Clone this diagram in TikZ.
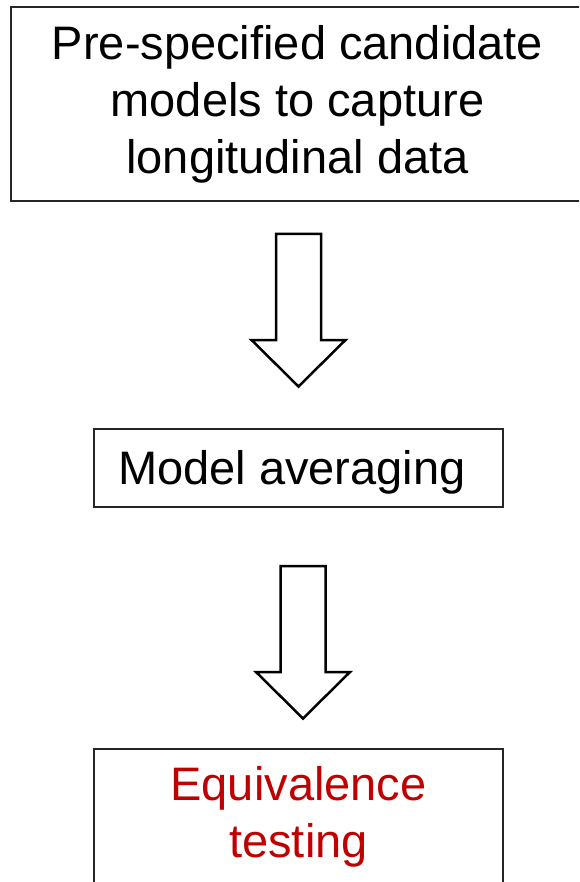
\documentclass[tikz,border=0pt]{standalone}
\usepackage{fontspec}
\setmainfont{Liberation Sans}
\usepackage{xcolor}
\usetikzlibrary{positioning}
\definecolor{eqred}{HTML}{C00000}
\newcommand\pptstrut{\rule[-0.212em]{0pt}{1.117em}}

\begin{document}
\begin{tikzpicture}[x=1pt, y=-1pt,
  box/.style={draw=black!85, line width=2pt, align=center, inner sep=0pt,
    font=\fontsize{47}{57}\selectfont,
    execute at begin node=\pptstrut, execute at end node=\pptstrut},
  blockarrow/.style={draw=black, line width=2.5pt, fill=white, line join=miter},
  downarrow/.pic={
    \draw[blockarrow] (-22.5,0) -- (-22.5,106) -- (-47,106) -- (0,152.5)
      -- (47,106) -- (22.5,106) -- (22.5,0) -- cycle;
  },
]
\clip (0,0) rectangle (579,882);
\node[box, minimum width=573pt, minimum height=194pt] (cand) at (297.5,104)
  {Pre-specified candidate\\models to capture\\longitudinal data};
\node[box, minimum width=409pt, minimum height=78pt] (avg) at (298.5,468)
  {Model averaging~};
\node[box, text=eqred, minimum width=409pt, minimum height=136pt] (equiv) at (298.5,817)
  {Equivalence\\testing};
\coordinate (arr1) at (298.5,234);
\coordinate (arr2) at (303,566);
\pic at (arr1) {downarrow};
\pic at (arr2) {downarrow};
\end{tikzpicture}
\end{document}
